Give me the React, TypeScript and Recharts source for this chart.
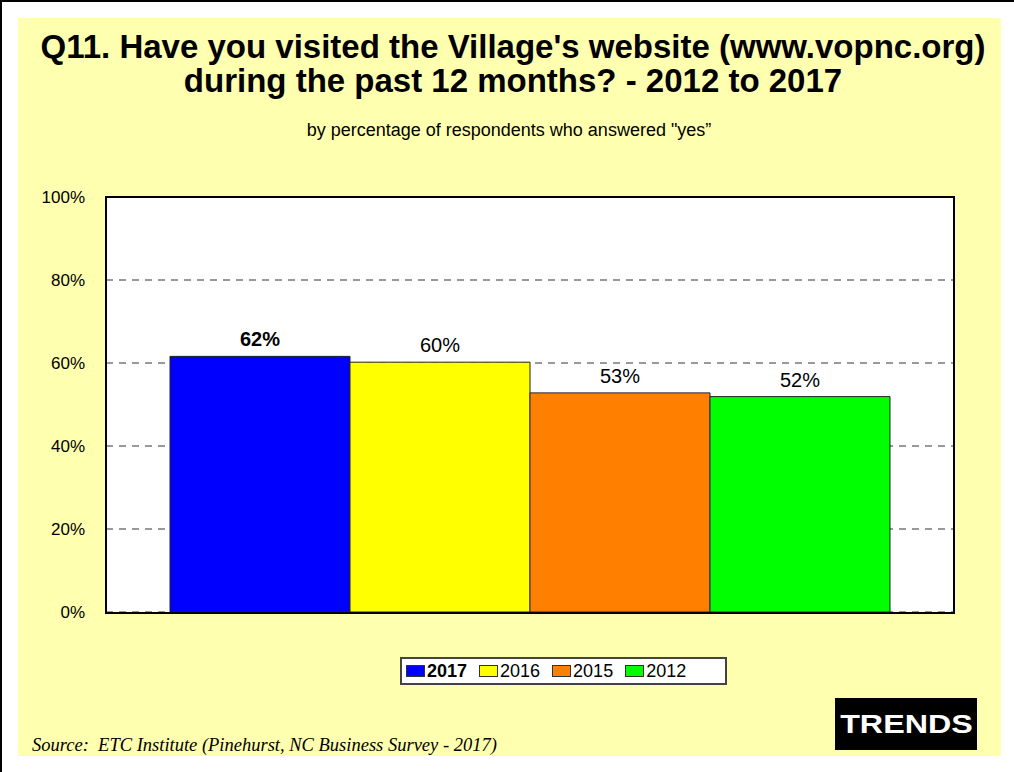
import { BarChart, Bar, XAxis, YAxis, CartesianGrid, LabelList, Legend } from "recharts";

const categories = ["Visited website"];
const seriesYears = ["2017", "2016", "2015", "2012"];
const seriesValues = [61.6, 60.2, 52.8, 51.9];
const seriesColors = ["#0000FF", "#FFFF00", "#FF8000", "#00FF00"];
const yTicks = [0, 20, 40, 60, 80, 100];

const data = categories.map((name) => {
  const row: Record<string, string | number> = { name };
  seriesYears.forEach((yr, i) => {
    row["y" + yr] = seriesValues[i];
  });
  return row;
});

const SANS = "Arial, 'Liberation Sans', sans-serif";
const SERIF = "'Times New Roman', 'Liberation Serif', serif";

function LegendBox({ payload }: any) {
  const items = [...(payload || [])].sort(
    (a: any, b: any) => seriesYears.indexOf(String(a.value)) - seriesYears.indexOf(String(b.value))
  );
  return (
    <div
      style={{
        width: 327,
        height: 28,
        boxSizing: "border-box",
        background: "#fff",
        border: "2px solid #444",
        display: "flex",
        alignItems: "center",
        paddingLeft: 4,
        fontFamily: SANS,
        fontSize: 18,
        color: "#000",
      }}
    >
      {items.map((p: any) => (
        <span key={p.value} style={{ display: "flex", alignItems: "center", marginRight: 12 }}>
          <span
            style={{
              display: "inline-block",
              width: 17,
              height: 10,
              background: p.color,
              border: "1px solid #333",
              marginRight: 2,
            }}
          />
          <span style={{ fontWeight: p.value === seriesYears[0] ? "bold" : "normal" }}>{p.value}</span>
        </span>
      ))}
    </div>
  );
}

export default function App() {
  return (
    <div
      style={{
        position: "absolute",
        left: 0,
        top: 0,
        width: 1014,
        height: 772,
        background: "#fff",
        overflow: "hidden",
        fontFamily: SANS,
      }}
    >
      <div
        style={{
          position: "absolute",
          left: 0,
          top: 0,
          width: 1200,
          height: 1000,
          borderLeft: "2px solid #000",
          borderTop: "2px solid #000",
        }}
      />
      <div style={{ position: "absolute", left: 18, top: 18, width: 983, height: 738, background: "#FFFFB0" }} />

      <div
        style={{
          position: "absolute",
          left: 0,
          top: 30,
          width: 1026,
          textAlign: "center",
          fontSize: 33,
          lineHeight: "34px",
          fontWeight: "bold",
          color: "#000",
        }}
      >
        Q11. Have you visited the Village's website (www.vopnc.org)
        <br />
        during the past 12 months? - 2012 to 2017
      </div>
      <div
        style={{
          position: "absolute",
          left: 0,
          top: 119,
          width: 1018,
          textAlign: "center",
          fontSize: 18,
          lineHeight: "22px",
          color: "#000",
        }}
      >
        by percentage of respondents who answered "yes”
      </div>

      <div style={{ position: "absolute", left: 0, top: 0 }}>
        <BarChart
          width={1014}
          height={772}
          data={data}
          margin={{ top: 197, right: 60, left: 46, bottom: 160 }}
          barGap={0}
          barCategoryGap={64}
          style={{ fontFamily: SANS }}
        >
          <CartesianGrid vertical={false} stroke="#333" strokeDasharray="7 6" fill="#fff" fillOpacity={1} />
          <XAxis dataKey="name" hide />
          <YAxis
            domain={[0, 100]}
            ticks={yTicks}
            interval={0}
            width={60}
            axisLine={false}
            tickLine={false}
            tickSize={0}
            tickMargin={21}
            tickFormatter={(v: number) => `${v}%`}
            tick={{ fontSize: 17, fill: "#000", fontFamily: SANS }}
          />
          <Legend
            layout="horizontal"
            verticalAlign="middle"
            align="center"
            content={<LegendBox />}
            wrapperStyle={{ position: "absolute", left: 400, top: 657, width: 327, height: 28 }}
          />
          {seriesYears.map((yr, i) => (
            <Bar
              key={yr}
              dataKey={"y" + yr}
              name={yr}
              fill={seriesColors[i]}
              stroke="#222"
              strokeWidth={1}
              isAnimationActive={false}
            >
              <LabelList
                dataKey={"y" + yr}
                position="top"
                offset={10}
                formatter={(v: any) => `${Math.round(Number(v))}%`}
                style={{ fontSize: 20, fill: "#000", fontWeight: i === 0 ? "bold" : "normal", fontFamily: SANS }}
              />
            </Bar>
          ))}
        </BarChart>
      </div>

      {/* plot frame */}
      <div
        style={{
          position: "absolute",
          left: 105,
          top: 196,
          width: 850,
          height: 418,
          boxSizing: "border-box",
          border: "2px solid #000",
          pointerEvents: "none",
        }}
      />

      <div
        style={{
          position: "absolute",
          left: 835,
          top: 698,
          width: 142,
          height: 52,
          background: "#000",
          display: "flex",
          alignItems: "center",
          justifyContent: "center",
        }}
      >
        <span
          style={{
            color: "#fff",
            fontWeight: "bold",
            fontSize: 26,
            display: "inline-block",
            transform: "scaleX(1.24)",
          }}
        >
          TRENDS
        </span>
      </div>

      <div
        style={{
          position: "absolute",
          left: 32,
          top: 734,
          fontFamily: SERIF,
          fontStyle: "italic",
          fontSize: 18.5,
          lineHeight: "22px",
          color: "#000",
          whiteSpace: "pre",
        }}
      >
        Source:  ETC Institute (Pinehurst, NC Business Survey - 2017)
      </div>
    </div>
  );
}
